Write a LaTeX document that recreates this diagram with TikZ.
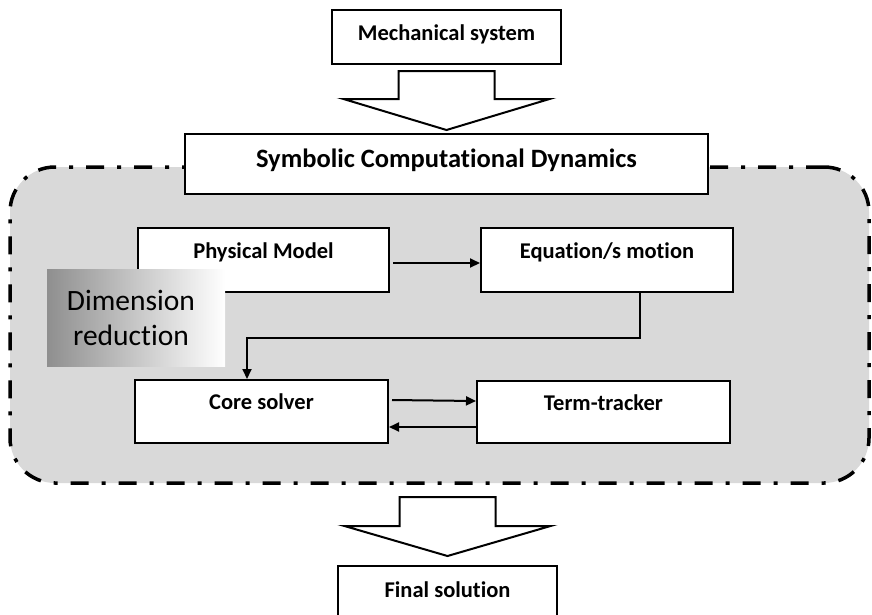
\documentclass[tikz,border=0pt]{standalone}
\usepackage{fontspec}
\setmainfont{Carlito}[Ligatures=NoCommon]
\usetikzlibrary{arrows.meta}
\definecolor{panelgray}{HTML}{D9D9D9}
\tikzset{
  box/.style={draw=black, line width=2pt, fill=white, inner sep=0pt,
    font=\fontsize{22.5}{26}\selectfont\bfseries},
  topbox/.style={box, text height=15pt, text depth=8pt},
  innerbox/.style={box, text height=15pt, text depth=19pt},
  panel/.style={draw=black, fill=panelgray, line width=3.5pt,
    rounded corners=45pt, dash pattern=on 18pt off 13pt on 4pt off 13pt},
  blockarrow/.style={draw=black, fill=white, line width=2pt, line join=miter},
  conn/.style={draw=black, line width=2pt, -{Triangle[length=10pt,width=9pt]}},
  shadebox/.style={shading=axis, left color=black!44, right color=white,
    inner sep=0pt, font=\fontsize{29.5}{35}\selectfont, align=center}
}
\begin{document}
\begin{tikzpicture}[x=1pt, y=-1pt]
  \clip (0,0) rectangle (872,614);

  % shaded panel holding the inner workflow
  \node[panel, minimum width=859pt, minimum height=316pt] (panel) at (439.5,325) {};

  % top and bottom boxes
  \node[topbox, minimum width=229pt, minimum height=54pt] (mech) at (446.5,37) {Mechanical system};
  \node[topbox, minimum width=523pt, minimum height=60pt,
        font=\fontsize{26.5}{30}\selectfont\bfseries] (scd) at (446.5,164) {Symbolic Computational Dynamics};
  \node[topbox, minimum width=219pt, minimum height=56pt] (final) at (447.5,594) {Final solution};

  % inner workflow boxes
  \node[innerbox, minimum width=251pt, minimum height=64pt] (pm) at (263.5,260) {Physical Model};
  \node[innerbox, minimum width=252pt, minimum height=64pt] (eq) at (607,260) {Equation/s motion};
  \node[innerbox, minimum width=253pt, minimum height=63pt] (core) at (261.5,411.5) {Core solver};
  \node[innerbox, minimum width=253pt, minimum height=62pt] (term) at (603.5,412) {Term-tracker};

  % hollow block arrows
  \draw[blockarrow] ([yshift=3pt]scd.north) -- ++(103,-31) -- ++(-55,0) -- ++(0,-28)
    -- ++(-96,0) -- ++(0,28) -- ++(-55,0) -- cycle;
  \draw[blockarrow] ([yshift=9pt]final.north) -- ++(103,-30) -- ++(-55,0) -- ++(0,-29)
    -- ++(-96,0) -- ++(0,29) -- ++(-55,0) -- cycle;

  % connectors
  \draw[conn] ([shift={(3pt,-3pt)}]pm.east) -- ([yshift=-3pt]eq.west);
  \draw[conn] ([xshift=33pt]eq.south) -- ++(0,45) -| ([xshift=-14.5pt]core.north);
  \draw[conn] ([shift={(3pt,11.5pt)}]core.east) -- ([yshift=11pt]term.west);
  \draw[conn] ([yshift=-15pt]term.west) -- ([yshift=-15.5pt]core.east);

  % dimension reduction tag
  \node[shadebox, minimum width=178pt, minimum height=97pt] (dimred) at (136,317.5)
    {\hspace*{-10pt}Dimension\\\hspace*{-10pt}reduction};
\end{tikzpicture}
\end{document}
